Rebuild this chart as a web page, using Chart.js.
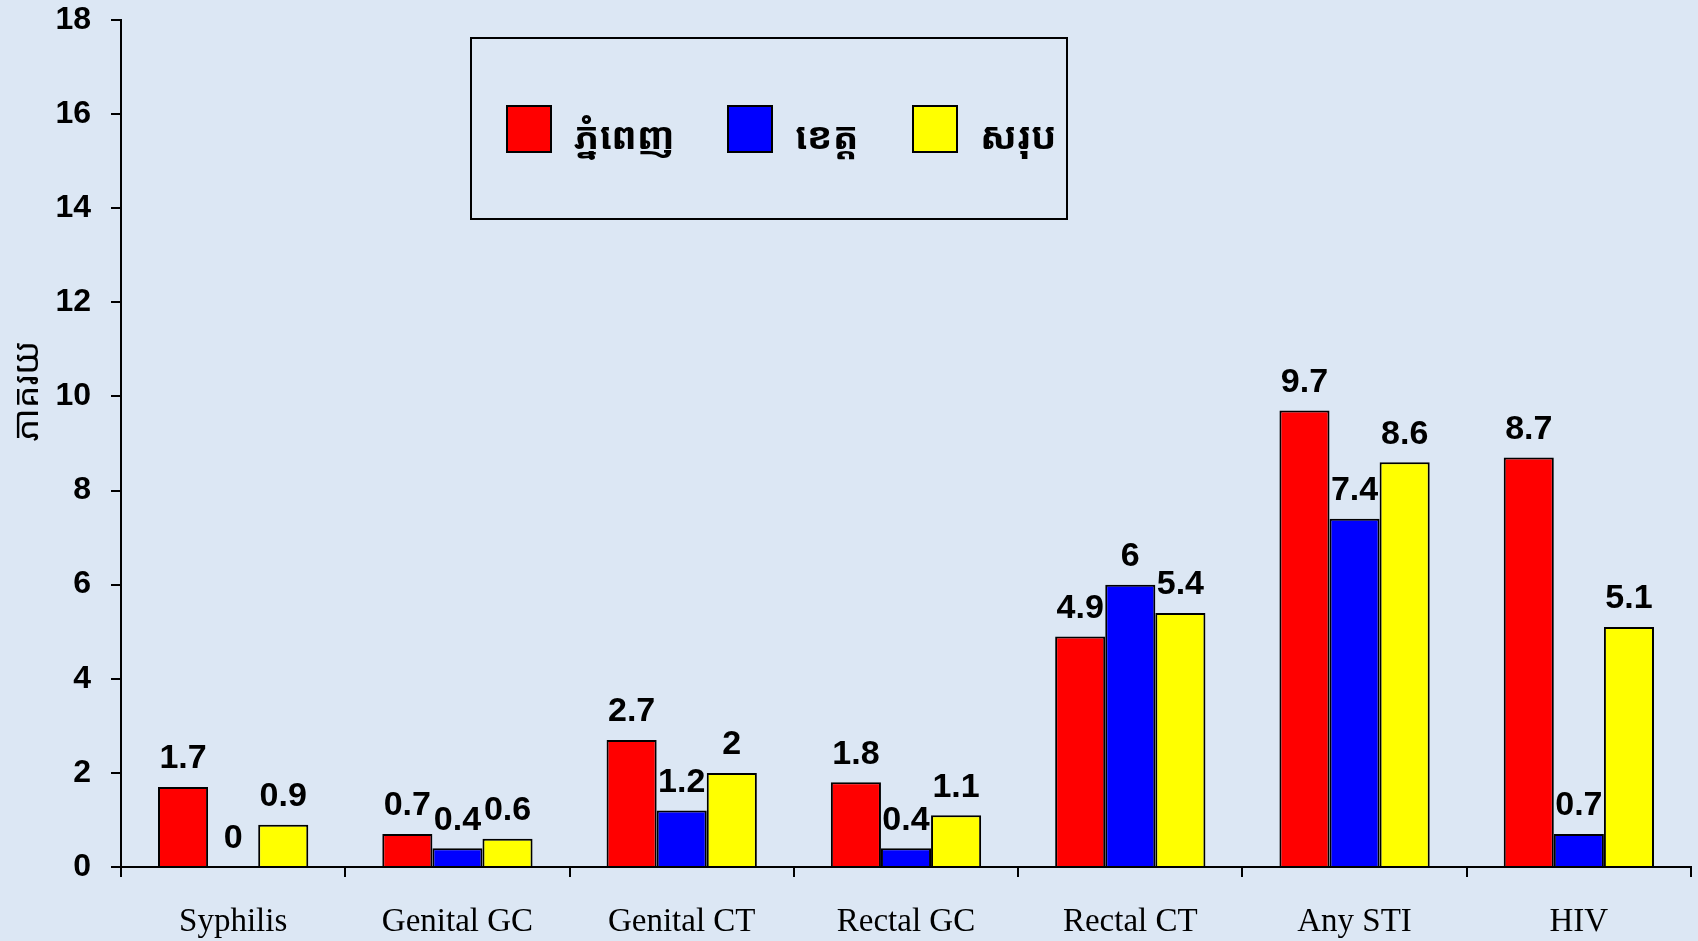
<!DOCTYPE html>
<html>
<head>
<meta charset="utf-8">
<script src="https://cdn.jsdelivr.net/npm/chart.js@4"></script>
<style>
  body { margin: 0; background: #dce7f4; }
  #wrap { width: 1698px; height: 941px; }
</style>
</head>
<body>
<div id="wrap"><canvas id="sti-chart"></canvas></div>
<script>
let categories = ['Syphilis', 'Genital GC', 'Genital CT', 'Rectal GC', 'Rectal CT', 'Any STI', 'HIV'];
let seriesNames = ['ភ្នំពេញ', 'ខេត្ត', 'សរុប'];
let phnomPenh = [1.7, 0.7, 2.7, 1.8, 4.9, 9.7, 8.7];
let province = [0, 0.4, 1.2, 0.4, 6, 7.4, 0.7];
let total = [0.9, 0.6, 2, 1.1, 5.4, 8.6, 5.1];
let yTicks = [0, 2, 4, 6, 8, 10, 12, 14, 16, 18];
let yTitle = 'ភាគរយ';

let khmerFont = "'Noto Sans Khmer', 'Noto Serif Khmer', 'Khmer OS', sans-serif";

// value labels above each bar
let valueLabels = {
    id: 'valueLabels',
    afterDatasetsDraw(chart) {
        let ctx = chart.ctx;
        ctx.save();
        ctx.font = "bold 34px 'Liberation Sans', Arial, sans-serif";
        ctx.fillStyle = '#000';
        ctx.textAlign = 'center';
        ctx.textBaseline = 'bottom';
        chart.data.datasets.forEach((ds, i) => {
            chart.getDatasetMeta(i).data.forEach((bar, j) => {
                ctx.fillText(String(ds.data[j]), bar.x, bar.y - 11);
            });
        });
        ctx.restore();
    }
};

// boxed legend + rotated y title
let boxLegend = {
    id: 'boxLegend',
    afterDraw(chart) {
        let ctx = chart.ctx;
        ctx.save();
        ctx.strokeStyle = '#000';
        ctx.lineWidth = 2;
        ctx.strokeRect(471, 38, 596, 181);
        let boxX = [507, 728, 913];
        chart.data.datasets.forEach((ds, i) => {
            ctx.fillStyle = ds.backgroundColor;
            ctx.fillRect(boxX[i], 106, 44, 46);
            ctx.strokeRect(boxX[i], 106, 44, 46);
            ctx.fillStyle = '#000';
            ctx.font = 'bold 38px ' + khmerFont;
            ctx.textAlign = 'left';
            ctx.textBaseline = 'middle';
            ctx.fillText(ds.label, boxX[i] + 67, 138);
        });
        ctx.translate(28, 391);
        ctx.rotate(-Math.PI / 2);
        ctx.font = '36px ' + khmerFont;
        ctx.textAlign = 'center';
        ctx.textBaseline = 'middle';
        ctx.fillText(yTitle, 0, 0);
        ctx.restore();
    }
};

let colors = ['#ff0000', '#0000ff', '#ffff00'];
let values = [phnomPenh, province, total];

let stiData = {
    labels: categories,
    datasets: seriesNames.map((name, i) => ({
        label: name,
        data: values[i],
        backgroundColor: colors[i],
        borderColor: '#000',
        borderWidth: 2,
        borderSkipped: 'bottom',
        categoryPercentage: 0.67,
        barPercentage: 1.0
    }))
};

let stiConfig = {
    type: 'bar',
    data: stiData,
    options: {
        responsive: true,
        maintainAspectRatio: false,
        animation: false,
        layout: { padding: { top: 20, right: 7, left: 0, bottom: 0 } },
        plugins: {
            legend: { display: false },
            tooltip: { enabled: false }
        },
        scales: {
            x: {
                grid: { display: true, drawOnChartArea: false, drawTicks: true, tickLength: 10, color: '#000', lineWidth: 2, offset: true },
                border: { color: '#000', width: 2 },
                ticks: {
                    color: '#000',
                    padding: 26,
                    font: { family: "'Liberation Serif', 'Times New Roman', serif", size: 33 }
                },
                afterFit(scale) {
                    scale.height = 74;
                    scale.paddingLeft = 0;
                    scale.paddingRight = 0;
                }
            },
            y: {
                min: 0,
                max: 18,
                afterBuildTicks(scale) { scale.ticks = yTicks.map(v => ({ value: v })); },
                grid: { display: true, drawOnChartArea: false, drawTicks: true, tickLength: 10, color: '#000', lineWidth: 2 },
                border: { color: '#000', width: 2 },
                ticks: {
                    color: '#000',
                    padding: 20,
                    font: { family: "'Liberation Sans', Arial, sans-serif", size: 32, weight: 'bold' }
                },
                afterFit(scale) {
                    scale.width = 121;
                    scale.paddingTop = 0;
                    scale.paddingBottom = 0;
                }
            }
        }
    },
    plugins: [valueLabels, boxLegend]
};

let stiChart = new Chart(
    document.getElementById('sti-chart'),
    stiConfig
);
</script>
</body>
</html>
